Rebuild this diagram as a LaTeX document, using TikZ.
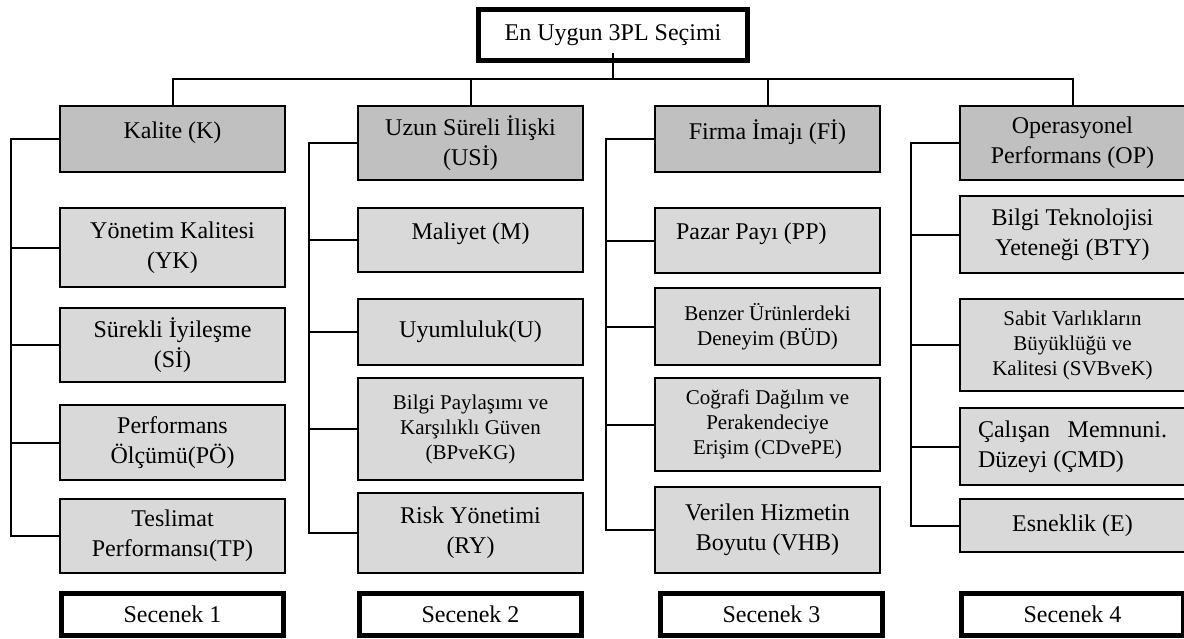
\documentclass[tikz,border=0pt]{standalone}
\usepackage{fontspec}
\setmainfont{Liberation Serif}

\definecolor{critgray}{HTML}{C0C0C0}
\definecolor{leafgray}{HTML}{D9D9D9}

\begin{document}
\begin{tikzpicture}[x=0.5pt,y=-0.5pt,line width=1pt]
\tikzstyle{every node}=[font=\fontsize{12}{15}\selectfont]
\tikzstyle{crit}=[rectangle,draw,fill=critgray,anchor=north west,align=center,
                  minimum width=112.5pt,inner sep=2pt]
\tikzstyle{leaf}=[crit,fill=leafgray]
\tikzstyle{alt}=[rectangle,draw,line width=2.5pt,fill=white,anchor=north west,
                 minimum width=111pt,minimum height=21pt]
\tikzstyle{small}=[font=\fontsize{10.5}{12.5}\selectfont]
\tikzstyle{raised}=[text depth=9pt]
\useasboundingbox (0,0) rectangle (1184,638);

% goal
\node [alt,minimum width=134.5pt,minimum height=25.5pt] (goal) at (476,7) {En Uygun 3PL Seçimi};

% criteria
\node [crit,raised,minimum height=33pt] (k) at (59,105) {Kalite (K)};
\node [crit,minimum height=37pt] (usi) at (357,105) {Uzun Süreli İlişki\\(USİ)};
\node [crit,raised,minimum height=33pt] (fi) at (654,105) {Firma İmajı (Fİ)};
\node [crit,minimum height=37pt] (op) at (959,105) {Operasyonel\\Performans (OP)};

% sub criteria
\node [leaf,minimum height=39.5pt] (yk) at (59,207) {Yönetim Kalitesi\\(YK)};
\node [leaf,minimum height=37pt] (si) at (59,307) {Sürekli İyileşme\\(Sİ)};
\node [leaf,minimum height=37.5pt] (po) at (59,404) {Performans\\Ölçümü(PÖ)};
\node [leaf,minimum height=37pt] (tp) at (59,498) {Teslimat\\Performansı(TP)};

\node [leaf,raised,minimum height=32pt] (m) at (357,207) {Maliyet (M)};
\node [leaf,minimum height=33pt] (u) at (357,298) {Uyumluluk(U)};
\node [leaf,small,minimum height=51pt] (bpkg) at (357,377) {Bilgi Paylaşımı ve\\Karşılıklı Güven\\(BPveKG)};
\node [leaf,minimum height=40pt] (ry) at (357,492) {Risk Yönetimi\\(RY)};

\node [leaf,raised,minimum height=32.5pt,text width=91.5pt,align=flush left] (pp) at (654,207) {Pazar Payı (PP)};
\node [leaf,small,minimum height=38.5pt] (bud) at (654,287) {Benzer Ürünlerdeki\\Deneyim (BÜD)};
\node [leaf,small,minimum height=46.5pt] (cdpe) at (654,377) {Coğrafi Dağılım ve\\Perakendeciye\\Erişim (CDvePE)};
\node [leaf,minimum height=43pt] (vhb) at (654,486) {Verilen Hizmetin\\Boyutu (VHB)};

\node [leaf,minimum height=38.5pt] (bty) at (959,195) {Bilgi Teknolojisi\\Yeteneği (BTY)};
\node [leaf,small,minimum height=46pt] (svbk) at (959,298) {Sabit Varlıkların\\Büyüklüğü ve\\Kalitesi (SVBveK)};
\node [leaf,minimum height=38.5pt,text width=94.5pt,align=flush left] (cmd) at (959,407) {Çalışan\hfill Memnuni.\\Düzeyi (ÇMD)};
\node [leaf,minimum height=26.5pt] (e) at (959,498) {Esneklik (E)};

% alternatives
\node [alt] (s1) at (59,591) {Secenek 1};
\node [alt] (s2) at (357,591) {Secenek 2};
\node [alt] (s3) at (658,591) {Secenek 3};
\node [alt] (s4) at (959,591) {Secenek 4};

% links to the goal
\path (goal.south) ++(0,16) coordinate (bus);
\draw ([yshift=5pt]goal.south) -- (bus);
\foreach \cat in {k,usi,fi,op}
  \draw (\cat.north) |- (bus);

% side bars
\foreach \cat/\leaves/\lastleaf in {k/{yk,si,po}/tp, usi/{m,u,bpkg}/ry,
                                    fi/{pp,bud,cdpe}/vhb, op/{bty,svbk,cmd}/e}{
  \coordinate (bar\cat) at ([xshift=-24pt]\cat.west);
  \draw (\cat.west) -- (bar\cat) |- (\lastleaf.west);
  \foreach \leaf in \leaves
    \draw (\leaf.west) -- (\leaf.west -| bar\cat);
}
\end{tikzpicture}
\end{document}
